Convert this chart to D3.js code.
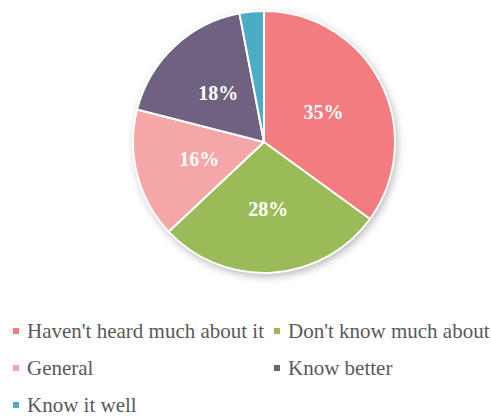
<!DOCTYPE html>
<html>
<head>
<meta charset="utf-8">
<script src="https://cdn.jsdelivr.net/npm/d3@7"></script>
</head>
<body style="margin:0;background:#fff">
<svg id="pie" width="491" height="418" style="display:block"></svg>
<script>
// Survey answers, in the order they are drawn clockwise from 12 o'clock
const categories = ["Haven't heard much about it", "Don't know much about", "General", "Know better", "Know it well"];
const shares = [35, 28, 16, 18, 3];
const colors = ["#F27C7F", "#9BBB59", "#F5A6A7", "#6F6180", "#4BACC6"];

const svg = d3.select("#pie").style("font-family", "serif");
const cx = 264, cy = 142, R = 131;

// soft shadow under the pie
const defs = svg.append("defs");
const f = defs.append("filter").attr("id", "shadow")
  .attr("x", "-20%").attr("y", "-20%").attr("width", "140%").attr("height", "140%");
f.append("feDropShadow").attr("dx", 2).attr("dy", 3).attr("stdDeviation", 4)
  .attr("flood-color", "#000").attr("flood-opacity", 0.3);

const pie = d3.pie().sort(null).value(d => d.v);
const arcs = pie(categories.map((c, i) => ({ c, v: shares[i], color: colors[i] })));

const arc = d3.arc().innerRadius(0).outerRadius(R);
const labelArc = d3.arc().innerRadius(R * 0.51).outerRadius(R * 0.51);

const g = svg.append("g").attr("transform", `translate(${cx},${cy})`);

g.append("circle").attr("r", R).attr("fill", "#fff").attr("filter", "url(#shadow)");

g.selectAll("path").data(arcs).join("path")
  .attr("d", arc)
  .attr("fill", d => d.data.color)
  .attr("stroke", "#fff")
  .attr("stroke-width", 2)
  .attr("stroke-linejoin", "round");

g.selectAll("text").data(arcs.filter(d => d.data.v >= 5)).join("text")
  .attr("transform", d => `translate(${labelArc.centroid(d)})`)
  .attr("text-anchor", "middle")
  .attr("dy", "0.35em")
  .attr("fill", "#fff")
  .style("font-family", () => "Liberation Serif")
  .style("font-weight", "bold")
  .style("font-size", "20px")
  .text(d => d.data.v + "%");

// legend: two columns, three rows
const colX = [13, 274];
const rowY = [338, 375, 412];
const items = categories.map((c, i) => ({ c, color: colors[i], col: i % 2, row: Math.floor(i / 2) }));

svg.selectAll("rect.key").data(items).join("rect")
  .attr("class", "key")
  .attr("x", d => colX[d.col]).attr("y", d => rowY[d.row] - 10)
  .attr("width", 6).attr("height", 6)
  .attr("fill", d => d.color);

svg.selectAll("text.key").data(items).join("text")
  .attr("class", "key")
  .attr("x", d => colX[d.col] + 14).attr("y", d => rowY[d.row])
  .attr("fill", "#595959")
  .style("font-family", () => "Liberation Serif")
  .style("font-size", "21px")
  .text(d => d.c);
</script>
</body>
</html>
